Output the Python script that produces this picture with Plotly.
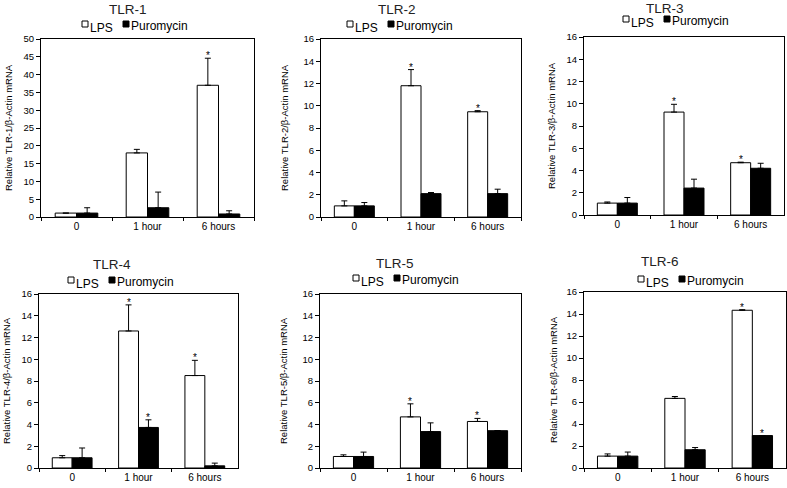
import plotly.graph_objects as go

# ---------------- data ----------------
categories = ["0", "1 hour", "6 hours"]
panel_titles = ["TLR-1", "TLR-2", "TLR-3", "TLR-4", "TLR-5", "TLR-6"]
series_names = ["LPS", "Puromycin"]

tlr1_lps = [1.1, 18.0, 37.0]
tlr1_lps_err = [0.0, 1.0, 7.6]
tlr1_puro = [1.1, 2.6, 0.85]
tlr1_puro_err = [1.5, 4.4, 0.9]
tlr1_lps_sig = [0, 0, 1]
tlr1_puro_sig = [0, 0, 0]

tlr2_lps = [1.0, 11.8, 9.46]
tlr2_lps_err = [0.45, 1.45, 0.1]
tlr2_puro = [1.0, 2.1, 2.1]
tlr2_puro_err = [0.3, 0.1, 0.4]
tlr2_lps_sig = [0, 1, 1]
tlr2_puro_sig = [0, 0, 0]

tlr3_lps = [1.07, 9.25, 4.7]
tlr3_lps_err = [0.1, 0.7, 0.05]
tlr3_puro = [1.07, 2.42, 4.2]
tlr3_puro_err = [0.5, 0.8, 0.45]
tlr3_lps_sig = [0, 1, 1]
tlr3_puro_sig = [0, 0, 0]

tlr4_lps = [0.94, 12.6, 8.5]
tlr4_lps_err = [0.2, 2.4, 1.4]
tlr4_puro = [0.94, 3.73, 0.2]
tlr4_puro_err = [0.9, 0.7, 0.25]
tlr4_lps_sig = [0, 1, 1]
tlr4_puro_sig = [0, 1, 0]

tlr5_lps = [1.06, 4.7, 4.28]
tlr5_lps_err = [0.15, 1.2, 0.28]
tlr5_puro = [1.06, 3.35, 3.43]
tlr5_puro_err = [0.4, 0.8, 0.0]
tlr5_lps_sig = [0, 1, 1]
tlr5_puro_sig = [0, 0, 0]

tlr6_lps = [1.08, 6.33, 14.34]
tlr6_lps_err = [0.2, 0.17, 0.05]
tlr6_puro = [1.08, 1.66, 2.95]
tlr6_puro_err = [0.37, 0.2, 0.0]
tlr6_lps_sig = [0, 0, 1]
tlr6_puro_sig = [0, 0, 1]

y_max = [50, 16, 16, 16, 16, 16]
y_step = [5, 2, 2, 2, 2, 2]

panels = [
    (tlr1_lps, tlr1_lps_err, tlr1_puro, tlr1_puro_err, tlr1_lps_sig, tlr1_puro_sig),
    (tlr2_lps, tlr2_lps_err, tlr2_puro, tlr2_puro_err, tlr2_lps_sig, tlr2_puro_sig),
    (tlr3_lps, tlr3_lps_err, tlr3_puro, tlr3_puro_err, tlr3_lps_sig, tlr3_puro_sig),
    (tlr4_lps, tlr4_lps_err, tlr4_puro, tlr4_puro_err, tlr4_lps_sig, tlr4_puro_sig),
    (tlr5_lps, tlr5_lps_err, tlr5_puro, tlr5_puro_err, tlr5_lps_sig, tlr5_puro_sig),
    (tlr6_lps, tlr6_lps_err, tlr6_puro, tlr6_puro_err, tlr6_lps_sig, tlr6_puro_sig),
]

# ---------------- layout geometry (pixels) ----------------
W, H = 787, 488
FONT = "Liberation Sans, Arial, sans-serif"


def px_x(p):
    return p / W


def px_y(p):
    return 1 - p / H


# plot boxes: left, right, top, bottom
boxes = [(41, 254, 39, 217), (321, 521, 39, 217), (584, 784, 37, 215),
         (39, 238, 294, 468), (320, 521, 294, 468), (584, 786, 292, 468)]
# title centre (x, y)
title_pos = [(128, 10), (397, 10), (665, 8), (112, 264), (395, 263), (660, 261)]
# legend left x, legend centre y
legend_pos = [(82, 26), (347, 26), (623, 21), (68, 282), (353, 280), (638, 281)]
# y-axis title x-centre
ytitle_x = [8, 284, 551, 6, 283, 553]

fig = go.Figure()
layout = dict(
    template="none",
    width=W, height=H,
    margin=dict(l=0, r=0, t=0, b=0, autoexpand=False),
    paper_bgcolor="white", plot_bgcolor="white",
    font=dict(family=FONT, color="black"),
    barmode="group", bargap=0.4, bargroupgap=0.0,
    showlegend=False,
)
annotations = []
shapes = []

for i, (lps, lps_err, puro, puro_err, lps_sig, puro_sig) in enumerate(panels):
    s = "" if i == 0 else str(i + 1)
    xa, ya = "x" + s, "y" + s
    l, r, t, b = boxes[i]

    fig.add_trace(go.Bar(
        x=categories, y=lps, name=series_names[0], xaxis=xa, yaxis=ya,
        marker=dict(color="white", line=dict(color="black", width=1)),
        error_y=dict(type="data", symmetric=False, array=lps_err,
                     arrayminus=[0] * len(lps), color="black", thickness=1, width=3),
        offsetgroup="lps",
    ))
    fig.add_trace(go.Bar(
        x=categories, y=puro, name=series_names[1], xaxis=xa, yaxis=ya,
        marker=dict(color="black", line=dict(color="black", width=1)),
        error_y=dict(type="data", symmetric=False, array=puro_err,
                     arrayminus=[0] * len(puro), color="black", thickness=1, width=3),
        offsetgroup="puro",
    ))

    layout["xaxis" + s] = dict(
        domain=[px_x(l), px_x(r)], anchor=ya, type="category", automargin=False,
        showline=True, linecolor="black", linewidth=1, mirror=True,
        ticks="outside", ticklen=3, tickcolor="black", tickson="boundaries",
        tickfont=dict(size=10, color="black", family=FONT), showgrid=False,
        zeroline=False,
    )
    layout["yaxis" + s] = dict(
        domain=[px_y(b), px_y(t)], anchor=xa, range=[0, y_max[i]], automargin=False,
        tick0=0, dtick=y_step[i],
        showline=True, linecolor="black", linewidth=1, mirror=True,
        ticks="outside", ticklen=4, tickcolor="black",
        tickfont=dict(size=9.5, color="black", family=FONT),
        showgrid=False, zeroline=False,
    )

    # significance stars
    for j in range(len(categories)):
        for vals, errs, sig, off in ((lps, lps_err, lps_sig, -0.15),
                                     (puro, puro_err, puro_sig, 0.15)):
            if sig[j]:
                annotations.append(dict(
                    x=j + off, y=vals[j] + errs[j], xref=xa, yref=ya,
                    text="*", showarrow=False, yanchor="bottom", yshift=-5,
                    font=dict(size=10, color="black", family=FONT),
                ))

    # panel title
    tx, ty = title_pos[i]
    annotations.append(dict(
        x=px_x(tx), y=px_y(ty), xref="paper", yref="paper",
        text=panel_titles[i], showarrow=False, xanchor="center", yanchor="middle",
        font=dict(size=13.5, color="#222222", family=FONT),
    ))

    # y-axis title
    annotations.append(dict(
        x=px_x(ytitle_x[i]), y=px_y((t + b) / 2), xref="paper", yref="paper",
        text="Relative " + panel_titles[i] + "/β-Actin mRNA", textangle=-90,
        showarrow=False, xanchor="center", yanchor="middle",
        font=dict(size=9.5, color="black", family=FONT),
    ))

    # legend
    lx, lyc = legend_pos[i]
    shapes.append(dict(type="rect", xref="paper", yref="paper",
                       x0=px_x(lx), x1=px_x(lx + 6), y0=px_y(lyc + 1), y1=px_y(lyc - 5),
                       line=dict(color="black", width=1), fillcolor="white"))
    shapes.append(dict(type="rect", xref="paper", yref="paper",
                       x0=px_x(lx + 41), x1=px_x(lx + 47), y0=px_y(lyc + 1), y1=px_y(lyc - 5),
                       line=dict(color="black", width=1), fillcolor="black"))
    annotations.append(dict(
        x=px_x(lx + 6.5), y=px_y(lyc + 2), xref="paper", yref="paper",
        text=series_names[0], showarrow=False, xanchor="left", yanchor="middle",
        font=dict(size=12, color="black", family=FONT), borderpad=0,
    ))
    annotations.append(dict(
        x=px_x(lx + 47.5), y=px_y(lyc), xref="paper", yref="paper",
        text=series_names[1], showarrow=False, xanchor="left", yanchor="middle",
        font=dict(size=12, color="black", family=FONT), borderpad=0,
    ))

layout["annotations"] = annotations
layout["shapes"] = shapes
fig.update_layout(**layout)
# remove the browser's default 8px page margin so the figure sits at (0, 0)
fig.write_html("out.html", config={"displayModeBar": False},
               post_script="document.body.style.margin='0';")
